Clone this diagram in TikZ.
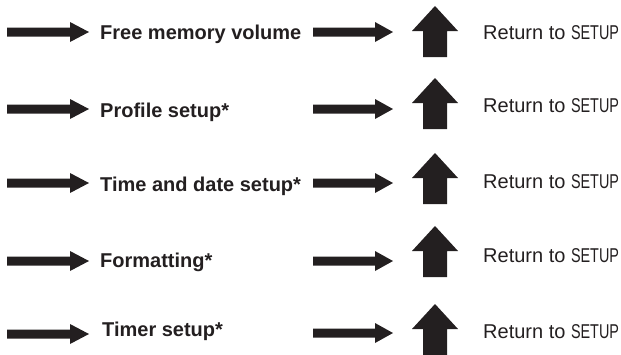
\documentclass[tikz,border=0pt]{standalone}
\usepackage{fontspec}
\setmainfont{Liberation Sans}
\usepackage{graphicx}
\usepackage{tikz}
\usetikzlibrary{positioning}
\definecolor{ink}{RGB}{35,31,32}

\newcommand{\setupword}{\scalebox{0.72}[1]{SETUP}}

\begin{document}
\begin{tikzpicture}[
    x=1pt,y=-1pt,
    menu/.style={anchor=base west,inner sep=0pt,text=ink,font=\fontsize{20}{24}\selectfont\bfseries},
    back/.style={anchor=base west,inner sep=0pt,text=ink,font=\fontsize{20}{24}\selectfont},
    inarrow/.pic={\fill[ink] (0,-4.5) -- (63,-4.5) -- (63,-10) -- (82,0) -- (63,10) -- (63,4.5) -- (0,4.5) -- cycle;},
    outarrow/.pic={\fill[ink] (0,-4.5) -- (62,-4.5) -- (62,-10) -- (80,0) -- (62,10) -- (62,4.5) -- (0,4.5) -- cycle;},
    uparrow/.pic={\fill[ink] (0,0) -- (23,25) -- (12,25) -- (12,51) -- (-12,51) -- (-12,25) -- (-23,25) -- cycle;}
  ]
    \useasboundingbox (0,0) rectangle (621,354);

    % free memory volume
    \pic (in1) at (7,32) {inarrow};
    \node[menu] (mem) at (100,39) {Free memory volume};
    \pic (out1) at (313,32) {outarrow};
    \pic (up1) at (435,6) {uparrow};
    \node[back] (ret1) at (483,39) {Return to \setupword};

    % profile setup
    \pic (in2) at (7,109) {inarrow};
    \node[menu] (profile) at (100,117) {Profile setup*};
    \pic (out2) at (313,109) {outarrow};
    \pic (up2) at (435,78) {uparrow};
    \node[back] (ret2) at (483,112) {Return to \setupword};

    % time and date setup
    \pic (in3) at (7,183) {inarrow};
    \node[menu] (clock) at (100,191) {Time and date setup*};
    \pic (out3) at (313,183) {outarrow};
    \pic (up3) at (435,153) {uparrow};
    \node[back] (ret3) at (483,188) {Return to \setupword};

    % formatting
    \pic (in4) at (7,261) {inarrow};
    \node[menu] (format) at (100,267) {Formatting*};
    \pic (out4) at (313,261) {outarrow};
    \pic (up4) at (435,226) {uparrow};
    \node[back] (ret4) at (483,262) {Return to \setupword};

    % timer setup
    \pic (in5) at (7,334) {inarrow};
    \node[menu] (timer) at (102,336) {Timer setup*};
    \pic (out5) at (313,333) {outarrow};
    \pic (up5) at (435,304) {uparrow};
    \node[back] (ret5) at (483,338) {Return to \setupword};
  \end{tikzpicture}
\end{document}
